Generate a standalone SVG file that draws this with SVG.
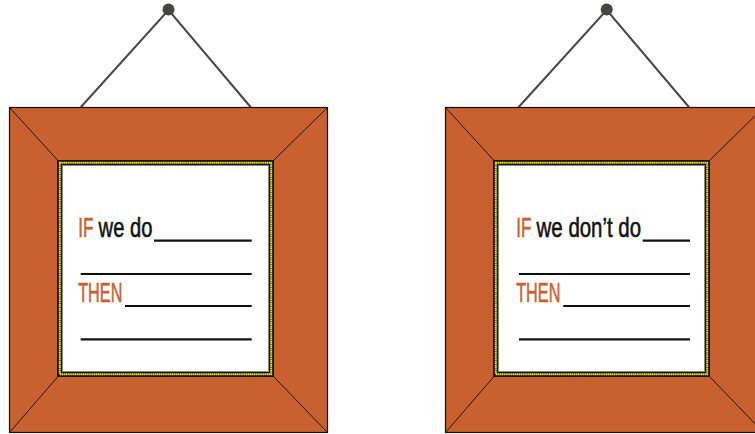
<svg xmlns="http://www.w3.org/2000/svg" width="755" height="434" viewBox="0 0 755 434">
<style>
.frame{fill:#C9602F;stroke:#111;stroke-width:1.2}
.diag{stroke:#1a1a1a;stroke-width:1;fill:none}
.mat{fill:#111}
.dots{fill:none;stroke:#EAE21E;stroke-width:2;stroke-dasharray:1.5 0.4}
.paper{fill:#fff;stroke:#888;stroke-width:1}
.hang{stroke:#4a4843;stroke-width:2;fill:none}
.nail{fill:#474540}
.blank{stroke:#111;stroke-width:2.2}
.txt{font-family:"Liberation Sans",Arial,sans-serif;font-size:28px;fill:#111;stroke:#111;stroke-width:0.6}
.hl{fill:#C9602F;stroke:#C9602F}
</style>
<g id="frame-left">
  <path class="hang" d="M80.5 107.5 L168.5 10 L251 107.5"/>
  <circle class="nail" cx="168.5" cy="9.5" r="6"/>
  <rect class="frame" x="9.5" y="107.5" width="318" height="325"/>
  <path class="diag" d="M9.5 107.5 L57.5 160 M327.5 107.5 L274 160 M9.5 432.5 L57.5 377 M327.5 432.5 L274 377"/>
  <rect class="mat" x="57" y="160" width="217" height="217"/>
  <rect class="dots" x="59.8" y="162.8" width="211.4" height="211.4"/>
  <rect class="paper" x="62.5" y="165.5" width="206" height="206"/>
  <text class="txt hl" transform="translate(78.2 236.7) scale(0.61 1)">IF</text>
  <text class="txt" transform="translate(98.6 236.7) scale(0.72 1)">we do</text>
  <line class="blank" x1="154" y1="240.7" x2="251.7" y2="240.7"/>
  <line class="blank" x1="80.7" y1="274" x2="251.7" y2="274"/>
  <text class="txt hl" transform="translate(78.2 301.7) scale(0.58 1)">THEN</text>
  <line class="blank" x1="125" y1="306" x2="251.7" y2="306"/>
  <line class="blank" x1="80.7" y1="339.3" x2="251.7" y2="339.3"/>
</g>
<g id="frame-right">
  <path class="hang" d="M518.3 107.5 L606.7 10 L689.3 107.5"/>
  <circle class="nail" cx="606.7" cy="9.5" r="6"/>
  <rect class="frame" x="445.5" y="107.5" width="318" height="325"/>
  <path class="diag" d="M445.5 107.5 L493.5 160 M763.5 107.5 L710 160 M445.5 432.5 L493.5 377 M763.5 432.5 L710 377"/>
  <rect class="mat" x="493" y="160" width="217" height="217"/>
  <rect class="dots" x="495.8" y="162.8" width="211.4" height="211.4"/>
  <rect class="paper" x="498.5" y="165.5" width="206" height="206"/>
  <text class="txt hl" transform="translate(516.2 236.7) scale(0.61 1)">IF</text>
  <text class="txt" transform="translate(536.6 236.7) scale(0.73 1)">we don’t do</text>
  <line class="blank" x1="642.7" y1="240.7" x2="690" y2="240.7"/>
  <line class="blank" x1="519" y1="274" x2="690" y2="274"/>
  <text class="txt hl" transform="translate(516.2 301.7) scale(0.58 1)">THEN</text>
  <line class="blank" x1="563.3" y1="306" x2="690" y2="306"/>
  <line class="blank" x1="519" y1="339.3" x2="690" y2="339.3"/>
</g>
<g id="connectors"></g>
</svg>
